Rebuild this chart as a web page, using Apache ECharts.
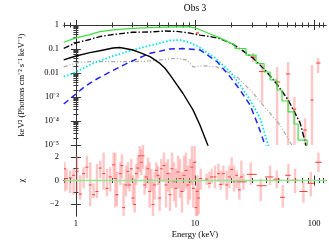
<!DOCTYPE html>
<html><head><meta charset="utf-8">
<script src="https://cdn.jsdelivr.net/npm/echarts@6/dist/echarts.min.js"></script>
<style>html,body{margin:0;padding:0;background:#fff}#c{width:329px;height:240px}</style>
</head><body><div id="c"></div>
<script>
// ---------- data ----------
const titleText = 'Obs 3';
const xTickValues = [1, 10, 100];
const xTickLabels = ['1', '10', '100'];
const xMinorTicks = [0.8, 0.9, 2, 3, 4, 5, 6, 7, 8, 9, 20, 30, 40, 50, 60, 70, 80, 90, 110, 120];
const yTopTickValues = [1, 0.1, 0.01, 1e-3, 1e-4, 1e-5];
const yTopTickLabels = ['1', '0.1', '0.01', '10⁻³', '10⁻⁴', '10⁻⁵'];
const yTopMinorTicks = [2e-5,3e-5,4e-5,5e-5,6e-5,7e-5,8e-5,9e-5,2e-4,3e-4,4e-4,5e-4,6e-4,7e-4,8e-4,9e-4,2e-3,3e-3,4e-3,5e-3,6e-3,7e-3,8e-3,9e-3,0.02,0.03,0.04,0.05,0.06,0.07,0.08,0.09,0.2,0.3,0.4,0.5,0.6,0.7,0.8,0.9];
const yBotTickValues = [2, 0, -2];
const yBotTickLabels = ['2', '0', '−2'];
const yBotMinorTicks = [-1, 1];

// total model (green), smooth part then binned steps
const greenE = [0.79, 1.0, 1.31, 1.59, 2.05, 3.01, 4.19, 5.6, 7.06, 9.08, 10.4, 13.4, 16.2, 19.7, 21.7];
const greenV = [0.19, 0.29, 0.40, 0.53, 0.63, 0.73, 0.78, 0.81, 0.83, 0.83, 0.71, 0.42, 0.29, 0.18, 0.146];
const greenStepEdges = [21.7, 26.8, 32.6, 38.0, 42.7, 48.9, 53.8, 60.5, 67.9, 73.4, 87.3];
const greenStepV = [0.105, 0.056, 0.0249, 0.011, 5.1e-3, 1.96e-3, 6.8e-4, 2.4e-4, 7.5e-5, 1.6e-5];

// black dash-dot component
const dashDotE = [0.79, 1.0, 1.31, 1.59, 2.05, 3.01, 4.19, 5.6, 7.06, 9.08, 11.0, 13.4, 16.2, 20.8, 25.3, 30.7, 38.7, 48.0, 60.6, 76.3, 85.5, 90];
const dashDotV = [0.107, 0.18, 0.25, 0.33, 0.40, 0.50, 0.51, 0.56, 0.54, 0.46, 0.38, 0.33, 0.27, 0.16, 0.083, 0.042, 0.0133, 3.8e-3, 7.5e-4, 8.3e-5, 1e-5, 3e-6];

// black solid component
const solidE = [0.79, 1.0, 1.31, 1.59, 2.05, 2.34, 3.01, 3.45, 4.19, 5.08, 5.6, 6.17, 7.06, 7.93, 9.62, 11.0, 12.6, 13.5];
const solidV = [0.035, 0.051, 0.071, 0.085, 0.11, 0.115, 0.091, 0.071, 0.048, 0.025, 0.0158, 0.0083, 3.2e-3, 1.4e-3, 2.9e-4, 6.8e-5, 1.2e-5, 5e-6];

// cyan dotted component
const cyanE = [0.79, 0.89, 1.08, 1.39, 1.93, 2.68, 4.19, 6.17, 7.5, 9.08, 11.0, 14.7, 19.7, 23.9, 29.0, 35.2, 41.1, 44];
const cyanV = [7.1e-3, 8.3e-3, 0.0133, 0.025, 0.046, 0.077, 0.14, 0.226, 0.237, 0.187, 0.113, 0.042, 0.0113, 3.2e-3, 7.5e-4, 1.33e-4, 1e-5, 3e-6];

// blue dashed component
const blueE = [0.79, 0.89, 1.0, 1.15, 1.39, 1.93, 2.84, 4.19, 6.17, 7.93, 11.0, 15.3, 19.7, 23.9, 29.0, 33.8, 38.7, 41];
const blueV = [5.1e-4, 8.3e-4, 1.33e-3, 2.4e-3, 4.6e-3, 0.011, 0.029, 0.066, 0.1, 0.105, 0.091, 0.03, 7e-3, 1.96e-3, 4.6e-4, 6.8e-5, 1e-5, 4e-6];

// gray dash-dot-dot component
const grayE = [0.79, 1.0, 1.31, 1.93, 3.01, 4.19, 5.6, 6.8, 8.6, 9.6, 11.7, 15.3, 19.7, 22.5, 30.7, 40.2, 51.8, 65, 70];
const grayV = [0.018, 0.026, 0.030, 0.030, 0.0296, 0.032, 0.037, 0.041, 0.035, 0.018, 0.020, 0.018, 9.7e-3, 7e-3, 1.47e-3, 2.9e-4, 6.8e-5, 1e-5, 4e-6];

// unfolded data points (top panel)
const topE   = [10.5, 30.7, 36.6, 48.9, 60.5, 68.4, 84, 96, 108];
const topV   = [0.47, 0.046, 0.0115, 4.2e-3, 9.1e-3, 3.1e-4, 4.2e-5, 7.5e-4, 0.026];
const topLo  = [0.42, 0.029, 5.6e-4, 1e-7, 1e-7, 1e-7, 1e-7, 1e-7, 0.01];
const topHi  = [0.52, 0.068, 0.026, 0.0178, 0.029, 1e-3, 1.3e-4, 0.0215, 0.042];
const topXlo = [10.2, 29.0, 34.5, 46, 58, 66, 81, 93, 104];
const topXhi = [10.8, 32.5, 39, 52, 63, 71, 87, 99, 113];

// residuals (bottom panel)
const resE = [0.803,0.835,0.896,0.956,1.020,1.087,1.160,1.237,1.319,1.408,1.501,1.601,1.708,1.822,1.943,2.073,2.141,2.211,2.358,2.435,2.515,2.632,2.735,2.825,2.917,3.013,3.112,3.214,3.319,3.428,3.540,3.656,3.776,3.900,4.027,4.159,4.296,4.436,4.582,4.732,4.887,5.047,5.213,
  5.489,5.705,5.931,6.166,6.409,6.663,6.926,7.200,7.482,7.778,8.085,8.404,8.736,9.078,9.436,9.683,9.936,10.195,10.46,10.73,11.16,
  12.53,13.20,13.80,14.72,15.71,16.44,17.30,18.46,19.44,20.33,21.27,22.39,23.58,24.51,
  25.48,29.36,35.63,42.69,48.57,54.54,60.84,69.24,81.38,93.76,108.7];
const resChi = [0.99,0.17,0.22,0.44,0.77,-1.15,0.58,1.13,-0.38,-1.20,-0.93,1.05,0.58,-0.66,0.30,1.32,0.17,-1.20,0.58,1.26,-2.29,-0.38,0.77,-0.38,0.99,-1.48,-2.03,0.58,1.05,2.09,1.54,2.09,-0.38,0.30,0.99,-0.93,0.03,-2.03,-0.38,0.85,0.44,-1.48,0.99,
  1.26,-0.38,0.58,-1.20,0.99,-0.11,-0.66,0.72,0.17,-0.93,0.44,0.85,-0.38,-0.11,1.13,-0.66,1.54,-2.29,-0.93,-1.48,0.17,
  0.11,-0.24,0.30,0.30,0.58,-0.33,0.58,-0.38,0.30,0.94,-0.11,0.44,-0.79,0.30,
  -0.11,0.52,-0.44,0.30,0.11,-1.42,0.44,0.03,-0.93,-0.24,1.54];
const resLo = [-0.93,-0.79,-1.07,-1.20,-0.93,-1.62,-0.66,0.17,-2.16,-1.48,-1.48,0.17,-0.79,-1.34,-0.93,0.17,-2.29,-2.16,-0.38,0.17,-2.99,-1.34,-0.66,-0.93,-0.11,-2.03,-2.71,-0.38,0.17,0.72,0.44,0.99,-1.20,-0.66,-0.24,-2.29,-0.93,-2.99,-1.62,0.17,-0.38,-2.58,-0.11,
  -0.11,-2.29,-0.93,-2.58,-0.66,-1.76,-2.29,-0.66,-1.48,-2.71,-0.93,-0.66,-2.03,-1.62,-0.38,-2.29,-0.11,-3.2,-3.2,-2.85,-0.79,
  -0.38,-0.66,-0.24,-0.66,-0.11,-0.79,-0.38,-1.62,-0.66,0.17,-0.93,-0.66,-1.62,-0.11,
  -0.79,-0.38,-1.76,-0.38,-0.66,-2.29,-0.24,-1.07,-1.89,-1.34,0.72];
const resHi = [1.54,0.99,0.85,0.99,2.09,0.44,1.13,2.09,1.54,-0.24,1.40,1.68,2.36,0.99,1.13,2.36,2.36,0.72,1.54,2.22,-0.24,1.26,1.54,0.58,1.81,0.44,0.17,1.40,2.09,2.91,2.64,3.05,0.44,1.26,1.95,1.54,0.99,-0.11,0.72,1.54,1.26,0.44,1.81,
  2.36,1.54,1.81,0.72,2.36,1.54,0.99,2.09,1.81,0.72,2.09,2.36,1.26,1.81,2.91,1.54,2.91,-0.66,0.44,0.17,0.99,
  0.58,0.72,0.99,1.26,1.40,0.85,1.26,0.85,1.26,1.95,1.26,0.85,0.30,1.68,
  0.58,1.54,0.17,1.26,0.85,-0.38,1.40,0.99,-0.11,0.72,2.36];
const resXlo = [22.39,27.18,32.98,38.73,45.53,51.81,57.05,64.9,75.3,87.9,102];
const resXhi = [27.18,32.98,40.02,45.53,51.81,57.05,63.65,73.84,87.9,100,116];

// ---------- chart ----------
const L = Math.log10;
const xMin = -0.1, xMax = 2.1;
const axisColor = '#333';
const font = 'Liberation Serif';
const pair = (E, V) => E.map((e, i) => [L(e), L(V[i])]);

const greenData = pair(greenE, greenV);
greenStepV.forEach((v, i) => { greenData.push([L(greenStepEdges[i]), L(v)]); greenData.push([L(greenStepEdges[i + 1]), L(v)]); });
greenData.push([L(greenStepEdges[greenStepEdges.length - 1]), -7]);

const topErr = topE.map((e, i) => [L(e), L(topV[i]), L(topLo[i]), L(topHi[i]), L(topXlo[i]), L(topXhi[i])]);
const nDense = resE.length - resXlo.length;
const resErr = resE.map((e, i) => {
  const j = i - nDense;
  return [L(e), resChi[i], resLo[i], resHi[i], j >= 0 ? L(resXlo[j]) : NaN, j >= 0 ? L(resXhi[j]) : NaN];
});

function errRender(params, api) {
  const x = api.value(0), y = api.value(1), lo = api.value(2), hi = api.value(3), xl = api.value(4), xh = api.value(5);
  const a = api.coord([x, lo]), b = api.coord([x, hi]), c = api.coord([x, y]);
  let l = c[0] - 1.5, r = c[0] + 1.5;
  if (xl != null && !isNaN(xl)) { l = api.coord([xl, y])[0]; r = api.coord([xh, y])[0]; }
  return { type: 'group', children: [
    { type: 'line', shape: { x1: a[0], y1: a[1], x2: b[0], y2: b[1] }, style: { stroke: 'rgba(255,120,120,0.42)', lineWidth: 2.4 } },
    { type: 'line', shape: { x1: l, y1: c[1], x2: r, y2: c[1] }, style: { stroke: '#ff3b3b', lineWidth: 1 } }
  ]};
}

const tickStyle = { color: axisColor, width: 1 };
function xAxesFor(grid, labels, name) {
  const base = { type: 'value', gridIndex: grid, min: xMin, max: xMax, splitLine: { show: false } };
  return [
    Object.assign({}, base, { position: 'bottom', axisLine: { show: true, lineStyle: tickStyle },
      axisTick: { show: true, inside: true, length: 5, lineStyle: tickStyle, customValues: xTickValues.map(L) },
      axisLabel: { show: labels, margin: 3, customValues: xTickValues.map(L), color: '#000', fontFamily: font, fontSize: 8.5,
        formatter: v => xTickLabels[xTickValues.map(L).findIndex(t => Math.abs(t - v) < 1e-6)] || '' },
      name: name || '', nameLocation: 'middle', nameGap: 14, nameTextStyle: { color: '#000', fontFamily: font, fontSize: 8.5 } }),
    Object.assign({}, base, { position: 'bottom', axisLine: { show: false },
      axisTick: { show: true, inside: true, length: 2.5, lineStyle: tickStyle, customValues: xMinorTicks.map(L) }, axisLabel: { show: false } }),
    Object.assign({}, base, { position: 'top', axisLine: { show: true, lineStyle: tickStyle },
      axisTick: { show: true, inside: true, length: 5, lineStyle: tickStyle, customValues: xTickValues.map(L) }, axisLabel: { show: false } }),
    Object.assign({}, base, { position: 'top', axisLine: { show: false },
      axisTick: { show: true, inside: true, length: 2.5, lineStyle: tickStyle, customValues: xMinorTicks.map(L) }, axisLabel: { show: false } })
  ];
}
function yAxesFor(grid, min, max, major, labels, minor, name) {
  const base = { type: 'value', gridIndex: grid, min: min, max: max, splitLine: { show: false } };
  return [
    Object.assign({}, base, { position: 'left', axisLine: { show: true, lineStyle: tickStyle },
      axisTick: { show: true, inside: true, length: 5, lineStyle: tickStyle, customValues: major },
      axisLabel: { show: true, margin: 5, customValues: major, color: '#000', fontFamily: font, fontSize: 8.5,
        formatter: v => labels[major.findIndex(t => Math.abs(t - v) < 1e-6)] || '' },
      name: name, nameLocation: 'middle', nameRotate: 90, nameGap: 38, nameTextStyle: { color: '#000', fontFamily: font, fontSize: 8.5 } }),
    Object.assign({}, base, { position: 'left', axisLine: { show: false },
      axisTick: { show: true, inside: true, length: 2.5, lineStyle: tickStyle, customValues: minor }, axisLabel: { show: false } }),
    Object.assign({}, base, { position: 'right', axisLine: { show: true, lineStyle: tickStyle },
      axisTick: { show: true, inside: true, length: 5, lineStyle: tickStyle, customValues: major }, axisLabel: { show: false } }),
    Object.assign({}, base, { position: 'right', axisLine: { show: false },
      axisTick: { show: true, inside: true, length: 2.5, lineStyle: tickStyle, customValues: minor }, axisLabel: { show: false } })
  ];
}

const lineS = (data, color, type, width, z) => ({ type: 'line', xAxisIndex: 0, yAxisIndex: 0, data: data, showSymbol: false, symbol: 'none',
  lineStyle: { color: color, width: width, type: type }, z: z || 3, animation: false, clip: true });

const chart = echarts.init(document.getElementById('c'), null, { renderer: 'canvas' });
chart.setOption({
  animation: false,
  backgroundColor: '#fff',
  graphic: [{ type: 'text', x: 195, y: 8, style: { text: titleText, textAlign: 'center', textVerticalAlign: 'middle', fill: '#000', font: '9.5px "Liberation Serif"' } }],
  grid: [
    { left: 64, right: 3, top: 25, height: 120 },
    { left: 64, right: 3, top: 145, height: 73 }
  ],
  xAxis: [].concat(xAxesFor(0, false, ''), xAxesFor(1, true, 'Energy (keV)')),
  yAxis: [].concat(
    yAxesFor(0, -5, 0, yTopTickValues.map(L), yTopTickLabels, yTopMinorTicks.map(L), 'keV² (Photons cm⁻² s⁻¹ keV⁻¹)'),
    yAxesFor(1, -3, 3, yBotTickValues, yBotTickLabels, yBotMinorTicks, 'χ')),
  series: [
    { type: 'custom', xAxisIndex: 0, yAxisIndex: 0, data: topErr, renderItem: errRender, clip: true, z: 2 },
    lineS(pair(grayE, grayV), '#a8a8a8', [4, 2, 1, 2, 1, 2], 1.2),
    lineS(pair(blueE, blueV), '#1f1fff', [6, 4], 1.5),
    lineS(pair(cyanE, cyanV), '#00e0ee', [1.5, 2], 1.8),
    lineS(pair(solidE, solidV), '#000', 'solid', 1.4),
    lineS(pair(dashDotE, dashDotV), '#000', [6, 2, 1.5, 2], 1.4),
    lineS(greenData, '#3ee03e', 'solid', 1.2, 4),
    { type: 'custom', xAxisIndex: 4, yAxisIndex: 4, data: resErr, renderItem: errRender, clip: true, z: 2 },
    { type: 'line', xAxisIndex: 4, yAxisIndex: 4, data: [[xMin, 0], [xMax, 0]], showSymbol: false, symbol: 'none',
      lineStyle: { color: '#8fe88f', width: 1.5 }, z: 4, animation: false }
  ]
});
</script></body></html>
